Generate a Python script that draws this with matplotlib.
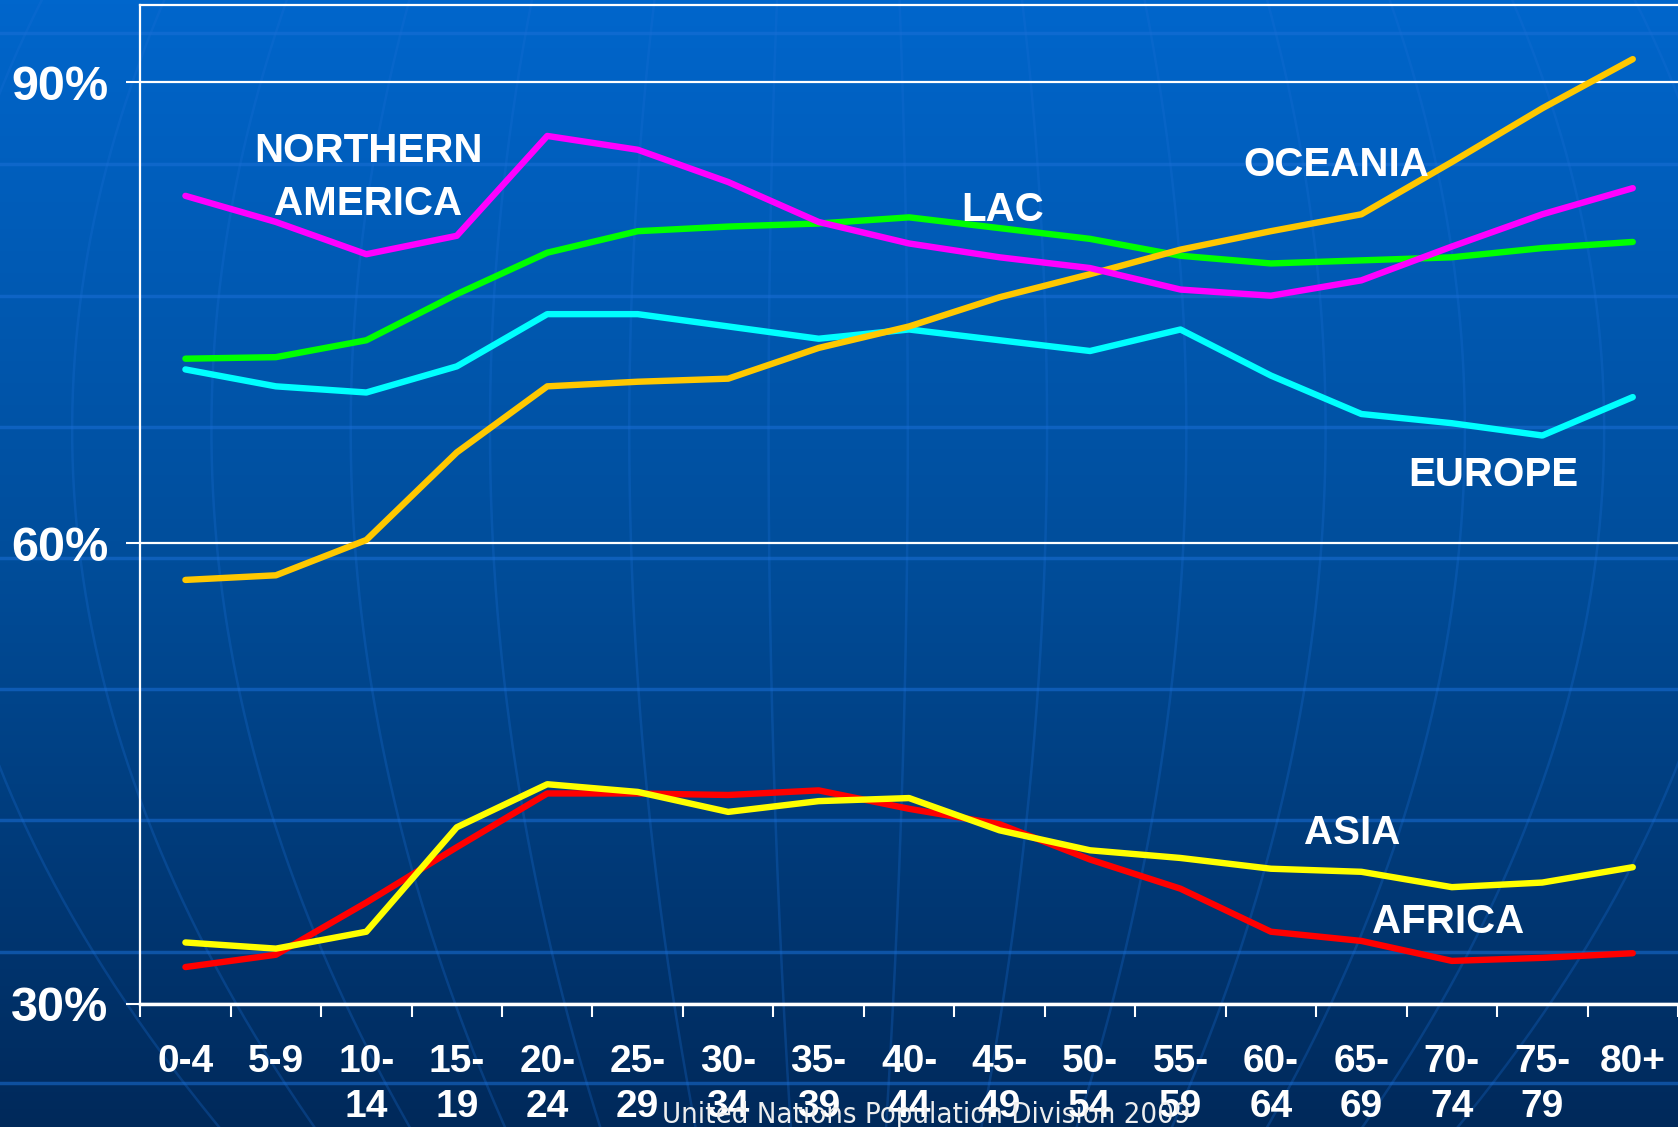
import matplotlib.pyplot as plt
import numpy as np
from matplotlib.colors import LinearSegmentedColormap

# Data (share of population, %, by age group)
age_groups = ['0-4', '5-9', '10-\n14', '15-\n19', '20-\n24', '25-\n29', '30-\n34', '35-\n39',
              '40-\n44', '45-\n49', '50-\n54', '55-\n59', '60-\n64', '65-\n69', '70-\n74',
              '75-\n79', '80+']
northern_america = [82.6, 80.9, 78.8, 80.0, 86.5, 85.6, 83.5, 80.9, 79.5, 78.6, 77.9, 76.5,
                    76.1, 77.1, 79.3, 81.4, 83.1]
lac = [72.0, 72.1, 73.2, 76.2, 78.9, 80.3, 80.6, 80.8, 81.2, 80.5, 79.8, 78.7, 78.2, 78.4,
       78.6, 79.2, 79.6]
europe = [71.3, 70.2, 69.8, 71.5, 74.9, 74.9, 74.1, 73.3, 73.9, 73.2, 72.5, 73.9, 70.9, 68.4,
          67.8, 67.0, 69.5]
oceania = [57.6, 57.9, 60.2, 65.9, 70.2, 70.5, 70.7, 72.7, 74.1, 76.0, 77.5, 79.1, 80.3, 81.4,
           84.8, 88.3, 91.5]
asia = [34.0, 33.6, 34.7, 41.5, 44.3, 43.8, 42.5, 43.2, 43.4, 41.3, 40.0, 39.5, 38.8, 38.6,
        37.6, 37.9, 38.9]
africa = [32.4, 33.2, 36.6, 40.2, 43.7, 43.7, 43.6, 43.9, 42.7, 41.7, 39.4, 37.5, 34.7, 34.1,
          32.8, 33.0, 33.3]

y_ticks = [30, 60, 90]
y_labels = ['30%', '60%', '90%']

FONT = ['Liberation Sans', 'DejaVu Sans']

fig = plt.figure(figsize=(16.78, 11.27), dpi=100)

# background: vertical gradient, faint latitude lines and meridian curves
bg = fig.add_axes([0, 0, 1, 1], zorder=-1)
cmap = LinearSegmentedColormap.from_list('bg', ['#0066cc', '#004d9a', '#00295a'])
grad = np.linspace(0, 1, 256).reshape(-1, 1)
bg.imshow(grad, cmap=cmap, aspect='auto', extent=[0, 1, 0, 1], origin='upper')
for yy in np.arange(31, 1053, 122.6):
    bg.axhline(1 - yy / 1053, color='#1a6fd6', lw=2.5, alpha=0.55)
t = np.linspace(0, 1, 200)
ypix = t * 1127
for x0 in np.arange(-0.04, 1.1, 0.083):
    xm = x0 * 1678
    f = np.clip(1 - 6.5e-7 * (ypix - 430) ** 2, 0, 1)
    xs = (839 + (xm - 839) * f) / 1678
    bg.plot(xs, 1 - t, color='#1a6fd6', lw=1.8, alpha=0.28)
bg.set_xlim(0, 1)
bg.set_ylim(0, 1)
bg.axis('off')

ax = fig.add_axes([131 / 1568, 1 - 938 / 1053, 1 - 131 / 1568, (938 - 5) / 1053])
ax.set_facecolor('none')

x = np.arange(len(age_groups))
lw = 4.6
ax.plot(x, lac, color='#00ff00', lw=lw, solid_capstyle='round', zorder=3)
ax.plot(x, europe, color='#00ffff', lw=lw, solid_capstyle='round', zorder=3)
ax.plot(x, africa, color='#ff0000', lw=lw, solid_capstyle='round', zorder=3)
ax.plot(x, asia, color='#ffff00', lw=lw, solid_capstyle='round', zorder=4)
ax.plot(x, oceania, color='#ffc800', lw=lw, solid_capstyle='round', zorder=4)
ax.plot(x, northern_america, color='#ff00ff', lw=lw, solid_capstyle='round', zorder=5)

ax.set_xlim(-0.5, len(age_groups) - 0.5)
ax.set_ylim(30, 95)

ax.set_yticks(y_ticks, y_labels)
ax.set_xticks(x, age_groups)
ax.set_xticks(np.arange(-0.5, len(age_groups), 1), minor=True)
ax.yaxis.grid(True, color='white', lw=1.6)
ax.set_axisbelow(True)

ax.tick_params(axis='y', colors='white', length=10, width=1.5, pad=13)
ax.tick_params(axis='x', which='major', length=0, pad=29)
ax.tick_params(axis='x', which='minor', colors='white', length=9, width=1.5)
for lab in ax.get_yticklabels():
    lab.set_family(FONT)
    lab.set_fontsize(35)
    lab.set_fontweight('bold')
    lab.set_color('white')
for lab in ax.get_xticklabels():
    lab.set_family(FONT)
    lab.set_fontsize(28)
    lab.set_fontweight('bold')
    lab.set_color('white')
    lab.set_linespacing(1.3)

for side in ['left', 'top']:
    ax.spines[side].set_color('white')
    ax.spines[side].set_linewidth(1.6)
ax.spines['bottom'].set_color('white')
ax.spines['bottom'].set_linewidth(2.5)
ax.spines['right'].set_visible(False)

label_kw = dict(color='white', fontsize=29, fontweight='bold', family=FONT,
                ha='center', va='center', zorder=6)
ax.text(2.02, 83.8, 'NORTHERN\nAMERICA', linespacing=1.5, **label_kw)
ax.text(9.03, 81.7, 'LAC', **label_kw)
ax.text(12.72, 84.6, 'OCEANIA', **label_kw)
ax.text(14.46, 64.4, 'EUROPE', **label_kw)
ax.text(12.9, 41.1, 'ASIA', **label_kw)
ax.text(13.96, 35.3, 'AFRICA', **label_kw)

fig.text(0.552, 0.011, 'United Nations Population Division 2009', color='#eeeeee',
         fontsize=21, family='DejaVu Sans', fontstretch='condensed', ha='center', va='center')

fig.savefig('out.png', dpi=100)
